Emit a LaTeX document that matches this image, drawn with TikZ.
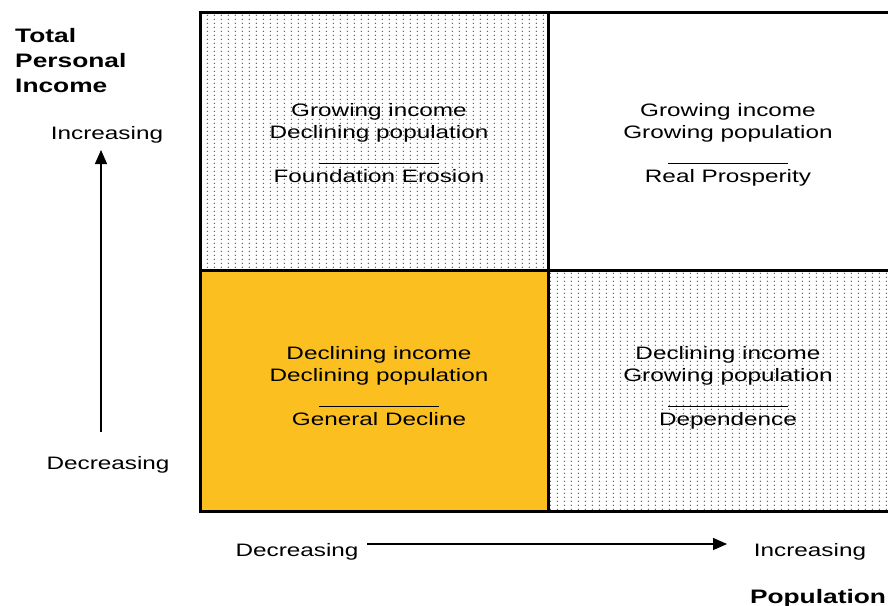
\documentclass[tikz,border=0pt]{standalone}
\usepackage{fontspec}
\setmainfont{Liberation Sans}[FakeStretch=1.35]
\usetikzlibrary{arrows.meta,patterns}
\definecolor{declinefill}{RGB}{251,192,32}
\pgfdeclarepatternformonly{griddots}{\pgfpointorigin}{\pgfpoint{7.3pt}{4.1pt}}{\pgfpoint{7.3pt}{4.1pt}}{%
  \pgfpathcircle{\pgfpoint{3.65pt}{2.05pt}}{0.85pt}\pgfusepath{fill}}
\newcommand{\sep}{\rule[-3pt]{120pt}{0.9pt}}
\begin{document}
\begin{tikzpicture}[x=1pt,y=-1pt,
  celltext/.style={align=center,inner sep=0pt,font=\fontsize{18}{22}\selectfont},
  axislabel/.style={inner sep=0pt,font=\fontsize{18}{22}\selectfont},
  axistitle/.style={inner sep=0pt,align=left,font=\fontsize{19.5}{25}\selectfont\bfseries},
  grid/.style={line width=3pt},
  dotted cell/.style={pattern=griddots,pattern color=black!65},
  axisarrow/.style={line width=1.3pt,-{Triangle[length=14pt,width=12pt]}}]
\useasboundingbox (0,0) rectangle (888,605);
\clip (0,0) rectangle (888,605);
% quadrant fills
\fill[white] (548,12) rectangle (892,270);
\fill[dotted cell] (200,12) rectangle (548,270);
\fill[dotted cell] (548,270) rectangle (892,511);
\fill[declinefill] (200,270) rectangle (548,511);
% frame and dividers
\draw[grid] (200,12) rectangle (892,511);
\draw[grid] (548,12) -- (548,511);
\draw[grid] (200,270) -- (892,270);
% quadrant captions
\node[celltext] (erosion) at (379,145) {\strut Growing income\\Declining population\\\sep\\Foundation Erosion\strut};
\node[celltext] (prosperity) at (728,145) {\strut Growing income\\Growing population\\\sep\\Real Prosperity\strut};
\node[celltext] (decline) at (379,388) {\strut Declining income\\Declining population\\\sep\\General Decline\strut};
\node[celltext] (dependence) at (728,388) {\strut Declining income\\Growing population\\\sep\\Dependence\strut};
% vertical axis
\node[axistitle,anchor=north west] (income) at (15,28) {Total\\Personal\\Income};
\node[axislabel] (yhigh) at (107,135) {Increasing};
\node[axislabel] (ylow) at (108,465) {Decreasing};
\coordinate (ybot) at (101,432);
\coordinate (ytop) at (101,150);
\draw[axisarrow] (ybot) -- (ytop);
% horizontal axis
\node[axislabel] (xlow) at (297,552) {Decreasing};
\node[axislabel] (xhigh) at (810,552) {Increasing};
\node[axistitle,anchor=base] (population) at (818,603) {Population};
\coordinate (xleft) at (367,544);
\coordinate (xright) at (727,544);
\draw[axisarrow] (xleft) -- (xright);
\end{tikzpicture}
\end{document}
